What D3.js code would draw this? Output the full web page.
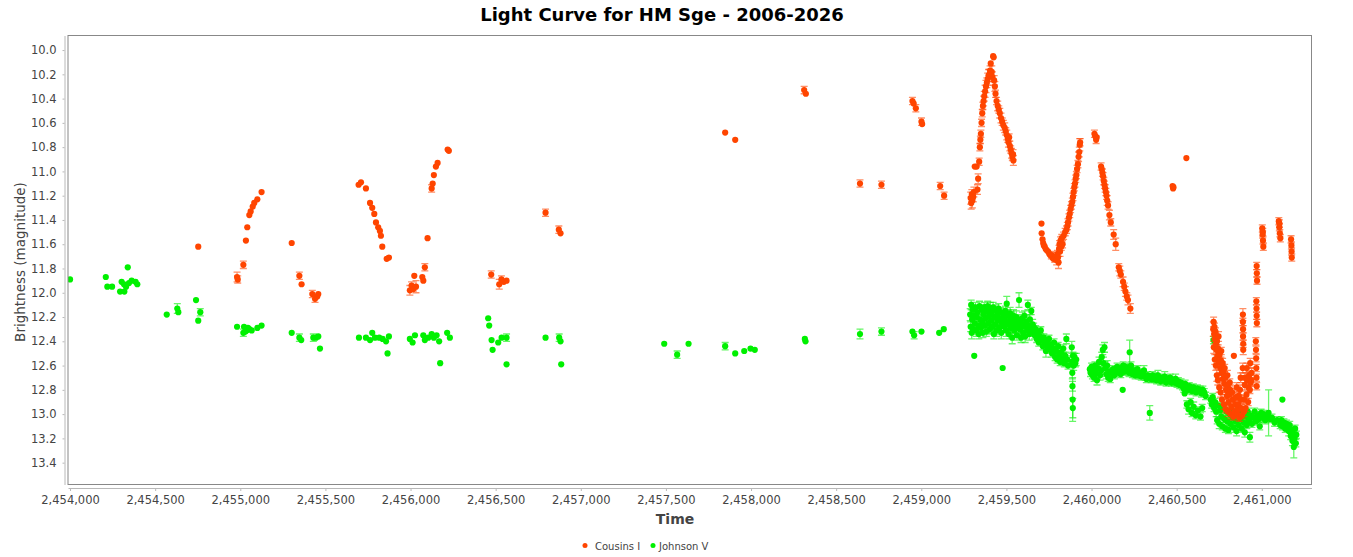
<!DOCTYPE html>
<html>
<head>
<meta charset="utf-8">
<script src="https://cdn.jsdelivr.net/npm/d3@7"></script>
<style>
  body { margin: 0; background: #fff; }
  svg { display: block; }
</style>
</head>
<body>
<svg id="svg"></svg>
<script>
// [julian date, magnitude, error]
const cousinsI = [
  [2454753, 11.62, 0.01],
  [2454981, 11.87, 0.04], [2454985, 11.89, 0.03], [2455018, 11.77, 0.03], [2455033, 11.57, 0.02],
  [2455041, 11.46, 0.02], [2455053, 11.36, 0.02], [2455061, 11.33, 0.02], [2455073, 11.29, 0.02],
  [2455082, 11.26, 0.02], [2455100, 11.23, 0.02], [2455125, 11.17, 0.02],
  [2455302, 11.59, 0.02], [2455347, 11.86, 0.03], [2455360, 11.93, 0.02], [2455423, 12.01, 0.03],
  [2455439, 12.05, 0.03], [2455452, 12.03, 0.02], [2455458, 12.01, 0.02],
  [2455695, 11.11, 0.02], [2455709, 11.09, 0.01], [2455738, 11.14, 0.01], [2455762, 11.26, 0.01],
  [2455775, 11.30, 0.01], [2455787, 11.35, 0.01], [2455797, 11.42, 0.02], [2455810, 11.46, 0.01],
  [2455820, 11.49, 0.02], [2455826, 11.53, 0.01], [2455834, 11.62, 0.02], [2455860, 11.72, 0.02],
  [2455873, 11.71, 0.02],
  [2455996, 11.98, 0.04], [2456006, 11.94, 0.03], [2456016, 11.97, 0.02], [2456022, 11.86, 0.02],
  [2456032, 11.95, 0.05], [2456069, 11.87, 0.02], [2456075, 11.90, 0.02], [2456084, 11.79, 0.03],
  [2456100, 11.55, 0.02], [2456124, 11.14, 0.03], [2456130, 11.10, 0.02], [2456137, 11.03, 0.02],
  [2456149, 10.96, 0.02], [2456159, 10.93, 0.02], [2456218, 10.82, 0.02], [2456225, 10.83, 0.01],
  [2456474, 11.85, 0.03], [2456521, 11.93, 0.04], [2456534, 11.89, 0.03], [2456548, 11.91, 0.02],
  [2456564, 11.90, 0.02],
  [2456793, 11.34, 0.03], [2456871, 11.48, 0.03], [2456881, 11.51, 0.02],
  [2457848, 10.68, 0.02], [2457907, 10.74, 0.02],
  [2458312, 10.33, 0.03], [2458322, 10.36, 0.02],
  [2458640, 11.10, 0.03], [2458766, 11.11, 0.03],
  [2458948, 10.42, 0.03], [2458955, 10.44, 0.02], [2458968, 10.48, 0.03], [2459001, 10.59, 0.03],
  [2459005, 10.61, 0.02], [2459111, 11.12, 0.03], [2459134, 11.20, 0.03],
  [2459290, 11.22, 0.05], [2459293, 11.26, 0.05], [2459297, 11.19, 0.04], [2459300, 11.24, 0.06],
  [2459305, 11.21, 0.04], [2459309, 11.17, 0.04], [2459314, 10.96, 0.02], [2459325, 10.96, 0.02],
  [2459330, 11.15, 0.04], [2459334, 11.06, 0.04], [2459340, 10.92, 0.03], [2459344, 10.80, 0.03],
  [2459347, 10.74, 0.03], [2459350, 10.69, 0.03], [2459354, 10.60, 0.03], [2459358, 10.52, 0.03],
  [2459362, 10.46, 0.03], [2459366, 10.42, 0.04], [2459370, 10.38, 0.04], [2459375, 10.34, 0.05],
  [2459380, 10.30, 0.05], [2459385, 10.27, 0.04], [2459390, 10.24, 0.05], [2459395, 10.21, 0.05],
  [2459400, 10.20, 0.04], [2459404, 10.17, 0.04], [2459408, 10.11, 0.02], [2459414, 10.18, 0.05],
  [2459418, 10.22, 0.04], [2459422, 10.05, 0.01], [2459425, 10.06, 0.01], [2459428, 10.25, 0.04],
  [2459432, 10.30, 0.04], [2459436, 10.36, 0.03], [2459442, 10.42, 0.03], [2459449, 10.46, 0.04],
  [2459455, 10.49, 0.03], [2459461, 10.52, 0.04], [2459468, 10.56, 0.04], [2459475, 10.59, 0.03],
  [2459482, 10.62, 0.04], [2459490, 10.64, 0.04], [2459496, 10.67, 0.03], [2459502, 10.70, 0.04],
  [2459508, 10.73, 0.03], [2459512, 10.76, 0.04], [2459516, 10.72, 0.03], [2459520, 10.79, 0.04],
  [2459525, 10.82, 0.03], [2459530, 10.85, 0.04], [2459535, 10.88, 0.03], [2459539, 10.86, 0.04],
  [2459541, 10.91, 0.04],
  [2459706, 11.43, 0.02], [2459707, 11.51, 0.02], [2459712, 11.56, 0.02], [2459716, 11.59, 0.02],
  [2459720, 11.61, 0.02], [2459725, 11.62, 0.02], [2459731, 11.64, 0.02], [2459737, 11.65, 0.02],
  [2459745, 11.66, 0.02], [2459752, 11.68, 0.02], [2459758, 11.69, 0.02], [2459764, 11.69, 0.03],
  [2459770, 11.71, 0.02], [2459776, 11.72, 0.02], [2459784, 11.72, 0.03], [2459790, 11.70, 0.03],
  [2459795, 11.73, 0.04], [2459800, 11.68, 0.03], [2459803, 11.71, 0.04], [2459806, 11.75, 0.05],
  [2459809, 11.64, 0.03], [2459812, 11.60, 0.03], [2459815, 11.66, 0.04], [2459818, 11.57, 0.03],
  [2459822, 11.62, 0.03], [2459825, 11.55, 0.03], [2459830, 11.60, 0.03], [2459836, 11.53, 0.03],
  [2459845, 11.50, 0.03], [2459853, 11.48, 0.03], [2459858, 11.45, 0.03], [2459862, 11.42, 0.03],
  [2459867, 11.38, 0.03], [2459872, 11.35, 0.03], [2459877, 11.31, 0.03], [2459882, 11.28, 0.03],
  [2459887, 11.25, 0.03], [2459891, 11.21, 0.03], [2459895, 11.17, 0.03], [2459899, 11.13, 0.03],
  [2459903, 11.10, 0.03], [2459907, 11.06, 0.03], [2459911, 11.03, 0.03], [2459915, 10.98, 0.03],
  [2459920, 10.94, 0.03], [2459924, 10.88, 0.04], [2459928, 10.84, 0.04], [2459931, 10.78, 0.05],
  [2459933, 10.76, 0.03],
  [2460017, 10.69, 0.03], [2460022, 10.71, 0.02], [2460027, 10.74, 0.03], [2460030, 10.72, 0.02],
  [2460056, 10.96, 0.03], [2460060, 10.98, 0.02], [2460064, 11.01, 0.03], [2460068, 11.04, 0.03],
  [2460072, 11.08, 0.03], [2460076, 11.11, 0.03], [2460080, 11.14, 0.03], [2460084, 11.17, 0.03],
  [2460088, 11.20, 0.03], [2460092, 11.24, 0.04], [2460097, 11.28, 0.03], [2460105, 11.36, 0.04],
  [2460113, 11.42, 0.03], [2460130, 11.52, 0.04], [2460142, 11.60, 0.05], [2460160, 11.79, 0.03],
  [2460166, 11.82, 0.04], [2460172, 11.85, 0.03], [2460185, 11.91, 0.04], [2460192, 11.95, 0.03],
  [2460199, 11.99, 0.04], [2460207, 12.03, 0.03], [2460214, 12.06, 0.04], [2460228, 12.13, 0.04],
  [2460476, 11.12, 0.01], [2460479, 11.14, 0.01], [2460481, 11.13, 0.01], [2460557, 10.89, 0.01],
  [2460715, 12.30, 0.06], [2460717, 12.24, 0.04], [2460718, 12.45, 0.05], [2460720, 12.34, 0.04],
  [2460722, 12.28, 0.03], [2460724, 12.55, 0.04], [2460725, 12.38, 0.04], [2460728, 12.32, 0.03],
  [2460730, 12.60, 0.04], [2460731, 12.42, 0.04], [2460734, 12.47, 0.04], [2460736, 12.68, 0.05],
  [2460737, 12.40, 0.03], [2460740, 12.52, 0.04], [2460742, 12.72, 0.04], [2460744, 12.46, 0.03],
  [2460746, 12.36, 0.04], [2460748, 12.57, 0.04], [2460750, 12.78, 0.04], [2460752, 12.51, 0.03],
  [2460756, 12.62, 0.04], [2460758, 12.82, 0.04], [2460760, 12.56, 0.03], [2460762, 12.48, 0.03],
  [2460764, 12.66, 0.04], [2460766, 12.88, 0.04], [2460768, 12.60, 0.03], [2460770, 12.58, 0.04],
  [2460772, 12.71, 0.04], [2460776, 12.65, 0.03], [2460778, 12.92, 0.04], [2460780, 12.75, 0.04],
  [2460782, 12.62, 0.03], [2460785, 12.70, 0.03], [2460788, 12.96, 0.03], [2460790, 12.80, 0.04],
  [2460795, 12.85, 0.03], [2460798, 12.68, 0.04], [2460800, 12.78, 0.04], [2460802, 12.98, 0.04],
  [2460805, 12.90, 0.03], [2460810, 12.84, 0.03], [2460812, 12.74, 0.03], [2460815, 12.80, 0.04],
  [2460818, 13.00, 0.04], [2460822, 12.94, 0.03], [2460826, 12.82, 0.03], [2460830, 12.88, 0.03],
  [2460834, 13.02, 0.03], [2460836, 12.52, 0.02], [2460840, 12.98, 0.03], [2460845, 12.92, 0.04],
  [2460848, 12.86, 0.03], [2460852, 12.78, 0.04], [2460855, 13.00, 0.03], [2460858, 12.96, 0.03],
  [2460862, 12.92, 0.04], [2460865, 12.85, 0.04], [2460868, 13.03, 0.03], [2460872, 12.80, 0.04],
  [2460876, 12.70, 0.04], [2460878, 12.88, 0.03], [2460880, 12.95, 0.03], [2460884, 13.01, 0.03],
  [2460888, 12.62, 0.04],
  [2460889, 12.18, 0.05], [2460889, 12.24, 0.03], [2460890, 12.30, 0.03], [2460890, 12.36, 0.03],
  [2460891, 12.42, 0.03], [2460891, 12.47, 0.04],
  [2460895, 12.98, 0.04], [2460896, 12.88, 0.03], [2460900, 12.76, 0.04], [2460902, 12.70, 0.04],
  [2460905, 12.95, 0.03], [2460910, 12.84, 0.03], [2460912, 12.62, 0.04], [2460915, 12.72, 0.03],
  [2460920, 12.90, 0.03], [2460922, 12.78, 0.04], [2460925, 12.68, 0.03], [2460930, 12.80, 0.03],
  [2460932, 12.58, 0.04], [2460935, 12.74, 0.03], [2460938, 12.72, 0.04], [2460940, 12.66, 0.04],
  [2460965, 12.40, 0.03], [2460966, 12.47, 0.03], [2460967, 12.54, 0.03], [2460968, 12.62, 0.03],
  [2460969, 12.70, 0.03], [2460970, 12.77, 0.03],
  [2460968, 12.07, 0.03], [2460969, 12.13, 0.03], [2460970, 12.19, 0.03], [2460971, 12.25, 0.03],
  [2460970, 11.78, 0.03], [2460971, 11.84, 0.03], [2460972, 11.90, 0.03],
  [2461003, 11.47, 0.03], [2461005, 11.52, 0.03], [2461006, 11.50, 0.03], [2461007, 11.57, 0.03],
  [2461009, 11.62, 0.03],
  [2461100, 11.41, 0.03], [2461103, 11.46, 0.03], [2461104, 11.43, 0.03], [2461106, 11.51, 0.03],
  [2461109, 11.55, 0.03],
  [2461172, 11.56, 0.03], [2461174, 11.61, 0.03], [2461175, 11.66, 0.03], [2461176, 11.71, 0.03]
];

const johnsonV = [
  [2454000, 11.89, 0.01], [2454210, 11.87, 0.01], [2454219, 11.95, 0.01], [2454247, 11.95, 0.01],
  [2454294, 11.99, 0.01], [2454303, 11.91, 0.01], [2454317, 11.93, 0.01], [2454319, 11.99, 0.01],
  [2454329, 11.95, 0.01], [2454339, 11.79, 0.01], [2454346, 11.92, 0.01], [2454362, 11.90, 0.01],
  [2454385, 11.91, 0.01], [2454395, 11.93, 0.01],
  [2454568, 12.18, 0.02], [2454630, 12.13, 0.04], [2454636, 12.16, 0.02], [2454740, 12.06, 0.02],
  [2454753, 12.23, 0.01], [2454765, 12.16, 0.03],
  [2454981, 12.28, 0.02], [2455018, 12.33, 0.03], [2455022, 12.28, 0.02], [2455030, 12.32, 0.02],
  [2455037, 12.31, 0.02], [2455045, 12.29, 0.02], [2455053, 12.30, 0.02], [2455067, 12.31, 0.02],
  [2455100, 12.29, 0.01], [2455125, 12.27, 0.01],
  [2455302, 12.33, 0.01], [2455347, 12.37, 0.03], [2455358, 12.39, 0.02], [2455429, 12.37, 0.03],
  [2455445, 12.37, 0.02], [2455458, 12.36, 0.02], [2455468, 12.46, 0.01],
  [2455697, 12.37, 0.02], [2455738, 12.37, 0.01], [2455762, 12.39, 0.01], [2455775, 12.33, 0.01],
  [2455791, 12.37, 0.02], [2455816, 12.37, 0.02], [2455836, 12.38, 0.02], [2455856, 12.40, 0.02],
  [2455865, 12.50, 0.01], [2455873, 12.36, 0.02],
  [2455996, 12.38, 0.02], [2456012, 12.41, 0.02], [2456026, 12.35, 0.02], [2456075, 12.35, 0.02],
  [2456084, 12.39, 0.02], [2456104, 12.37, 0.02], [2456124, 12.34, 0.02], [2456137, 12.37, 0.02],
  [2456153, 12.35, 0.02], [2456168, 12.40, 0.01], [2456174, 12.58, 0.01], [2456215, 12.33, 0.01],
  [2456231, 12.37, 0.01],
  [2456456, 12.21, 0.02], [2456462, 12.27, 0.02], [2456476, 12.39, 0.02], [2456482, 12.47, 0.02],
  [2456515, 12.41, 0.02], [2456535, 12.37, 0.02], [2456564, 12.37, 0.03], [2456564, 12.59, 0.01],
  [2456793, 12.37, 0.02], [2456873, 12.37, 0.03], [2456881, 12.40, 0.02], [2456885, 12.59, 0.02],
  [2457490, 12.42, 0.01], [2457566, 12.51, 0.03], [2457633, 12.42, 0.01],
  [2457848, 12.44, 0.03], [2457907, 12.50, 0.02], [2457960, 12.48, 0.01], [2457997, 12.46, 0.01],
  [2458022, 12.47, 0.01], [2458316, 12.38, 0.02], [2458320, 12.40, 0.02],
  [2458640, 12.34, 0.04], [2458766, 12.32, 0.03], [2458948, 12.32, 0.02], [2458958, 12.35, 0.03],
  [2459001, 12.32, 0.02], [2459105, 12.33, 0.02], [2459132, 12.30, 0.02],
  [2459287, 12.18, 0.05], [2459290, 12.28, 0.04], [2459293, 12.10, 0.04], [2459296, 12.33, 0.05],
  [2459299, 12.22, 0.05], [2459302, 12.14, 0.04], [2459305, 12.30, 0.04], [2459308, 12.19, 0.05],
  [2459311, 12.52, 0.02], [2459314, 12.25, 0.05], [2459318, 12.12, 0.04], [2459322, 12.31, 0.05],
  [2459326, 12.20, 0.04], [2459330, 12.16, 0.05], [2459334, 12.27, 0.05], [2459338, 12.34, 0.04],
  [2459342, 12.11, 0.04], [2459346, 12.22, 0.05], [2459350, 12.29, 0.05], [2459354, 12.14, 0.04],
  [2459358, 12.24, 0.05], [2459362, 12.33, 0.04], [2459366, 12.18, 0.05], [2459370, 12.12, 0.04],
  [2459374, 12.27, 0.05], [2459378, 12.21, 0.05], [2459382, 12.32, 0.04], [2459386, 12.15, 0.05],
  [2459390, 12.11, 0.04], [2459394, 12.25, 0.05], [2459398, 12.19, 0.05], [2459402, 12.30, 0.04],
  [2459406, 12.13, 0.05], [2459410, 12.23, 0.04], [2459414, 12.16, 0.05], [2459418, 12.28, 0.05],
  [2459422, 12.12, 0.04], [2459426, 12.34, 0.04], [2459430, 12.20, 0.05], [2459434, 12.26, 0.05],
  [2459438, 12.14, 0.04], [2459442, 12.31, 0.05], [2459446, 12.18, 0.04], [2459450, 12.23, 0.05],
  [2459454, 12.13, 0.04], [2459458, 12.29, 0.05], [2459462, 12.21, 0.05], [2459466, 12.16, 0.04],
  [2459470, 12.33, 0.05], [2459474, 12.25, 0.04], [2459478, 12.62, 0.02], [2459482, 12.18, 0.05],
  [2459486, 12.28, 0.04], [2459490, 12.22, 0.05], [2459494, 12.15, 0.04], [2459498, 12.31, 0.05],
  [2459502, 12.09, 0.06], [2459506, 12.26, 0.05], [2459510, 12.19, 0.05], [2459514, 12.34, 0.04],
  [2459518, 12.24, 0.05], [2459522, 12.17, 0.05], [2459526, 12.29, 0.04], [2459530, 12.21, 0.05],
  [2459534, 12.37, 0.05], [2459538, 12.25, 0.04], [2459542, 12.19, 0.05], [2459546, 12.31, 0.05],
  [2459550, 12.23, 0.04], [2459554, 12.28, 0.05], [2459558, 12.20, 0.05], [2459562, 12.35, 0.04],
  [2459566, 12.26, 0.05], [2459570, 12.22, 0.04], [2459574, 12.06, 0.06], [2459578, 12.30, 0.05],
  [2459582, 12.24, 0.05], [2459586, 12.37, 0.04], [2459590, 12.28, 0.04], [2459594, 12.21, 0.05],
  [2459598, 12.33, 0.05], [2459602, 12.26, 0.04], [2459606, 12.19, 0.04], [2459610, 12.36, 0.05],
  [2459614, 12.28, 0.04], [2459618, 12.24, 0.05], [2459622, 12.31, 0.04], [2459626, 12.10, 0.04],
  [2459630, 12.27, 0.04], [2459634, 12.34, 0.05], [2459638, 12.22, 0.04], [2459642, 12.29, 0.04],
  [2459646, 12.15, 0.03], [2459650, 12.32, 0.04], [2459654, 12.26, 0.04],
  [2459660, 12.28, 0.03], [2459666, 12.35, 0.03], [2459672, 12.30, 0.03], [2459678, 12.38, 0.03],
  [2459684, 12.33, 0.03], [2459690, 12.41, 0.03], [2459696, 12.36, 0.03], [2459702, 12.31, 0.03],
  [2459708, 12.39, 0.03], [2459714, 12.44, 0.03], [2459720, 12.37, 0.03], [2459726, 12.42, 0.03],
  [2459732, 12.48, 0.05], [2459738, 12.40, 0.03], [2459744, 12.45, 0.03], [2459750, 12.38, 0.03],
  [2459756, 12.47, 0.03], [2459762, 12.43, 0.03], [2459768, 12.50, 0.03], [2459774, 12.46, 0.03],
  [2459780, 12.41, 0.03], [2459786, 12.53, 0.03], [2459792, 12.48, 0.03], [2459798, 12.55, 0.03],
  [2459804, 12.44, 0.03], [2459810, 12.51, 0.03], [2459816, 12.57, 0.03], [2459822, 12.49, 0.03],
  [2459828, 12.54, 0.03], [2459834, 12.46, 0.03], [2459840, 12.58, 0.03], [2459846, 12.52, 0.03],
  [2459852, 12.38, 0.04], [2459858, 12.55, 0.03], [2459862, 12.60, 0.03],
  [2459884, 12.45, 0.05], [2459886, 12.57, 0.04], [2459887, 12.66, 0.05], [2459888, 12.77, 0.04],
  [2459889, 12.88, 0.18], [2459890, 12.95, 0.08], [2459891, 12.52, 0.03], [2459895, 12.60, 0.04],
  [2459900, 12.53, 0.03], [2459905, 12.58, 0.03], [2459910, 12.55, 0.05],
  [2459990, 12.63, 0.02], [2459994, 12.66, 0.03], [2460000, 12.61, 0.03], [2460005, 12.68, 0.03],
  [2460010, 12.64, 0.04], [2460015, 12.70, 0.03], [2460020, 12.60, 0.03], [2460026, 12.66, 0.05],
  [2460032, 12.72, 0.04], [2460038, 12.62, 0.04], [2460044, 12.57, 0.04], [2460050, 12.68, 0.04],
  [2460056, 12.64, 0.05], [2460060, 12.53, 0.04], [2460066, 12.47, 0.04], [2460070, 12.58, 0.05],
  [2460076, 12.45, 0.04], [2460080, 12.62, 0.05], [2460086, 12.67, 0.04], [2460092, 12.60, 0.04],
  [2460098, 12.70, 0.03], [2460104, 12.65, 0.03], [2460110, 12.71, 0.03],
  [2460118, 12.66, 0.03], [2460126, 12.63, 0.03], [2460134, 12.68, 0.03], [2460142, 12.64, 0.03],
  [2460150, 12.61, 0.03], [2460158, 12.66, 0.03], [2460166, 12.63, 0.03], [2460172, 12.67, 0.03],
  [2460178, 12.62, 0.03], [2460183, 12.80, 0.02], [2460186, 12.60, 0.03], [2460192, 12.65, 0.03],
  [2460198, 12.61, 0.03], [2460204, 12.64, 0.03], [2460212, 12.62, 0.03], [2460220, 12.66, 0.03],
  [2460224, 12.49, 0.10], [2460226, 12.63, 0.03], [2460232, 12.60, 0.03], [2460240, 12.67, 0.03],
  [2460248, 12.64, 0.03], [2460256, 12.68, 0.03], [2460262, 12.65, 0.03], [2460270, 12.63, 0.03],
  [2460278, 12.68, 0.03], [2460285, 12.66, 0.03], [2460292, 12.69, 0.03], [2460300, 12.67, 0.03],
  [2460308, 12.64, 0.04], [2460315, 12.69, 0.03], [2460322, 12.71, 0.03], [2460330, 12.68, 0.03],
  [2460338, 12.70, 0.03], [2460342, 12.99, 0.06], [2460350, 12.71, 0.03], [2460358, 12.68, 0.03],
  [2460366, 12.71, 0.03], [2460374, 12.69, 0.03], [2460382, 12.72, 0.03], [2460390, 12.68, 0.04],
  [2460398, 12.71, 0.03], [2460406, 12.73, 0.03], [2460414, 12.70, 0.03], [2460422, 12.72, 0.03],
  [2460430, 12.69, 0.04], [2460438, 12.74, 0.03], [2460446, 12.71, 0.03], [2460455, 12.73, 0.03],
  [2460462, 12.70, 0.03], [2460470, 12.74, 0.03], [2460478, 12.72, 0.03], [2460486, 12.74, 0.03],
  [2460494, 12.71, 0.04], [2460502, 12.75, 0.03], [2460510, 12.73, 0.03], [2460518, 12.76, 0.03],
  [2460526, 12.74, 0.03], [2460534, 12.77, 0.03], [2460542, 12.79, 0.03], [2460547, 12.83, 0.02],
  [2460550, 12.75, 0.03], [2460558, 12.78, 0.03], [2460566, 12.80, 0.03], [2460574, 12.77, 0.03],
  [2460582, 12.79, 0.03], [2460590, 12.81, 0.03], [2460598, 12.78, 0.03], [2460606, 12.80, 0.03],
  [2460614, 12.82, 0.03], [2460622, 12.79, 0.03], [2460630, 12.81, 0.03], [2460638, 12.80, 0.03],
  [2460646, 12.83, 0.03], [2460654, 12.80, 0.03], [2460662, 12.82, 0.03], [2460670, 12.85, 0.03],
  [2460560, 12.92, 0.03], [2460570, 12.96, 0.04], [2460582, 12.90, 0.03], [2460590, 12.99, 0.03],
  [2460600, 12.94, 0.04], [2460612, 13.01, 0.03], [2460625, 12.97, 0.03], [2460640, 13.02, 0.03],
  [2460650, 12.95, 0.03],
  [2460700, 12.88, 0.03], [2460706, 12.92, 0.03], [2460712, 12.86, 0.03], [2460716, 12.39, 0.03],
  [2460720, 12.95, 0.03], [2460726, 12.90, 0.03], [2460732, 12.98, 0.04], [2460738, 13.05, 0.03],
  [2460744, 12.93, 0.03], [2460750, 13.08, 0.04], [2460756, 12.97, 0.03], [2460762, 13.02, 0.03],
  [2460768, 13.10, 0.03], [2460774, 12.94, 0.03], [2460780, 13.04, 0.03], [2460786, 13.12, 0.03],
  [2460792, 12.98, 0.03], [2460798, 13.06, 0.03], [2460804, 13.13, 0.03], [2460810, 13.00, 0.03],
  [2460816, 13.08, 0.03], [2460822, 12.96, 0.03], [2460828, 13.03, 0.03], [2460834, 13.11, 0.04],
  [2460840, 12.99, 0.03], [2460846, 13.06, 0.03], [2460852, 13.14, 0.04], [2460858, 13.01, 0.03],
  [2460864, 13.09, 0.03], [2460870, 12.97, 0.03], [2460876, 13.04, 0.03], [2460882, 13.12, 0.03],
  [2460888, 13.00, 0.03], [2460894, 13.07, 0.03], [2460900, 13.15, 0.04], [2460906, 13.02, 0.03],
  [2460912, 13.09, 0.03], [2460918, 12.98, 0.03], [2460924, 13.05, 0.03], [2460930, 13.19, 0.04],
  [2460936, 13.01, 0.03], [2460942, 13.08, 0.03], [2460950, 13.03, 0.03], [2460958, 12.98, 0.03],
  [2460966, 13.06, 0.03], [2460974, 13.01, 0.03], [2460982, 13.04, 0.03], [2460988, 13.10, 0.03],
  [2460996, 12.99, 0.03], [2461004, 13.03, 0.03], [2461012, 13.00, 0.03], [2461020, 13.05, 0.03],
  [2461030, 13.02, 0.03], [2461040, 12.99, 0.19], [2461050, 13.04, 0.03], [2461060, 13.03, 0.03],
  [2461075, 13.07, 0.03], [2461090, 13.05, 0.03], [2461108, 13.09, 0.03], [2461115, 13.05, 0.03],
  [2461121, 12.88, 0.02], [2461122, 13.10, 0.03], [2461130, 13.07, 0.03], [2461138, 13.12, 0.03],
  [2461145, 13.08, 0.03], [2461152, 13.11, 0.03], [2461158, 13.14, 0.04], [2461164, 13.09, 0.03],
  [2461170, 13.18, 0.03], [2461175, 13.13, 0.03], [2461180, 13.22, 0.04], [2461184, 13.16, 0.03],
  [2461188, 13.27, 0.09], [2461192, 13.20, 0.04], [2461196, 13.12, 0.03], [2461200, 13.24, 0.03],
  [2461203, 13.17, 0.03]
];

const seriesNames = ["Cousins I", "Johnson V"];
const seriesColors = ["#ff4500", "#00f000"];

const xTickValues = [2454000, 2454500, 2455000, 2455500, 2456000, 2456500, 2457000, 2457500,
  2458000, 2458500, 2459000, 2459500, 2460000, 2460500, 2461000];
const yTickValues = [10.0, 10.2, 10.4, 10.6, 10.8, 11.0, 11.2, 11.4, 11.6, 11.8, 12.0, 12.2,
  12.4, 12.6, 12.8, 13.0, 13.2, 13.4];

const width = 1353, height = 557;
const plot = { left: 68, right: 1311.5, top: 35.5, bottom: 484.5 };
const font = "'DejaVu Sans', sans-serif";

const svg = d3.select("#svg")
  .attr("width", width)
  .attr("height", height)
  .style("font-family", font);

const x = d3.scaleLinear()
  .domain([2453988, 2461292])
  .range([plot.left, plot.right]);

// magnitudes: brighter (smaller) at the top
const y = d3.scaleLinear()
  .domain([9.88, 13.58])
  .range([plot.top, plot.bottom]);

// title
svg.append("text")
  .attr("x", 662)
  .attr("y", 21)
  .attr("text-anchor", "middle")
  .style("font-weight", "bold")
  .style("font-size", "18px")
  .attr("fill", "#000")
  .text("Light Curve for HM Sge - 2006-2026");

// axes
const xAxis = svg.append("g")
  .attr("transform", "translate(0,488)")
  .call(d3.axisBottom(x)
    .tickValues(xTickValues)
    .tickFormat(d3.format(","))
    .tickSizeInner(3)
    .tickSizeOuter(0)
    .tickPadding(5));

const yAxis = svg.append("g")
  .attr("transform", "translate(64.5,0)")
  .call(d3.axisLeft(y)
    .tickValues(yTickValues)
    .tickFormat(d3.format(".1f"))
    .tickSizeInner(2)
    .tickSizeOuter(0)
    .tickPadding(6));

[xAxis, yAxis].forEach(g => {
  g.selectAll("path, line").attr("stroke", "#b8b8b8");
  g.selectAll("text")
    .attr("fill", "#444")
    .style("font-family", font)
    .style("font-size", "11.5px");
});

svg.append("text")
  .attr("x", 675)
  .attr("y", 524)
  .attr("text-anchor", "middle")
  .style("font-weight", "bold")
  .style("font-size", "14px")
  .attr("fill", "#444")
  .text("Time");

svg.append("text")
  .attr("transform", "translate(25,262) rotate(-90)")
  .attr("text-anchor", "middle")
  .style("font-size", "13.5px")
  .attr("fill", "#444")
  .text("Brightness (magnitude)");

// points with error bars, Johnson V underneath
svg.append("clipPath").attr("id", "clip")
  .append("rect")
  .attr("x", plot.left)
  .attr("y", plot.top)
  .attr("width", plot.right - plot.left)
  .attr("height", plot.bottom - plot.top);

const marks = svg.append("g").attr("clip-path", "url(#clip)");
const cap = 3.5;

[[johnsonV, seriesColors[1]], [cousinsI, seriesColors[0]]].forEach(([data, color]) => {
  const g = marks.append("g");

  g.append("g")
    .attr("stroke", color)
    .attr("stroke-width", 1.3)
    .attr("stroke-opacity", 0.6)
    .attr("fill", "none")
    .selectAll("path")
    .data(data.filter(d => d[2] * (y(1) - y(0)) > 3))
    .join("path")
    .attr("d", d => {
      const cx = x(d[0]), y0 = y(d[1] - d[2]), y1 = y(d[1] + d[2]);
      return `M${cx},${y0}V${y1}M${cx - cap},${y0}H${cx + cap}M${cx - cap},${y1}H${cx + cap}`;
    });

  g.append("g")
    .attr("fill", color)
    .selectAll("circle")
    .data(data)
    .join("circle")
    .attr("cx", d => x(d[0]))
    .attr("cy", d => y(d[1]))
    .attr("r", 3.1);
});

// plot outline
svg.append("rect")
  .attr("x", plot.left)
  .attr("y", plot.top)
  .attr("width", plot.right - plot.left)
  .attr("height", plot.bottom - plot.top)
  .attr("fill", "none")
  .attr("stroke", "#888")
  .attr("stroke-width", 1);

// legend
const legend = svg.append("g")
  .style("font-size", "10px")
  .attr("fill", "#444");

const legendItems = [
  { name: seriesNames[0], color: seriesColors[0], dot: 585, text: 595 },
  { name: seriesNames[1], color: seriesColors[1], dot: 653, text: 659 }
];

legendItems.forEach(item => {
  legend.append("circle")
    .attr("cx", item.dot)
    .attr("cy", 545.5)
    .attr("r", 2.5)
    .attr("fill", item.color);
  legend.append("text")
    .attr("x", item.text)
    .attr("y", 549.5)
    .text(item.name);
});
</script>
</body>
</html>
